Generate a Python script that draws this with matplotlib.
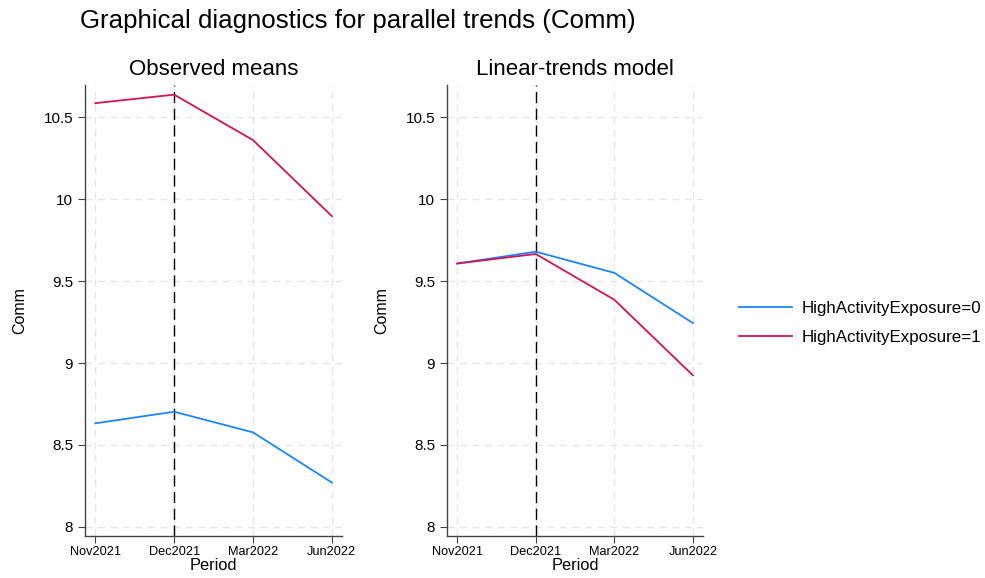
import matplotlib
matplotlib.use("Agg")
import matplotlib.pyplot as plt
from matplotlib.ticker import FuncFormatter

periods = ["Nov2021", "Dec2021", "Mar2022", "Jun2022"]
obs_hae0 = [8.632, 8.703, 8.577, 8.271]
obs_hae1 = [10.585, 10.637, 10.360, 9.896]
lin_hae0 = [9.607, 9.679, 9.550, 9.244]
lin_hae1 = [9.607, 9.665, 9.386, 8.925]
series_labels = ["HighActivityExposure=0", "HighActivityExposure=1"]
yticks = [8, 8.5, 9, 9.5, 10, 10.5]

BLUE = "#1a85ff"
RED = "#d41159"

plt.rcParams["font.family"] = ["Liberation Sans", "DejaVu Sans"]

fig = plt.figure(figsize=(9.85, 5.78), dpi=100)
ax1 = fig.add_axes([0.0863, 0.0727, 0.261, 0.780])
ax2 = fig.add_axes([0.4538, 0.0727, 0.260, 0.780])

x = list(range(len(periods)))

def style(ax, title):
    ax.set_xlim(-0.13, 3.13)
    ax.set_ylim(7.945, 10.695)
    ax.set_yticks(yticks)
    ax.yaxis.set_major_formatter(FuncFormatter(lambda v, p: f"{v:g}"))
    ax.set_xticks(x)
    ax.set_xticklabels(periods, fontsize=9.2)
    ax.tick_params(axis="y", labelsize=11, length=5, width=0.8, color="#444444")
    ax.tick_params(axis="x", length=5, width=0.8, color="#444444", pad=2)
    for s in ["top", "right"]:
        ax.spines[s].set_visible(False)
    for s in ["left", "bottom"]:
        ax.spines[s].set_color("#444444")
        ax.spines[s].set_linewidth(1.0)
    ax.grid(True, color="#e6e6e6", linestyle=(0, (5, 4)), linewidth=1.0)
    ax.set_axisbelow(True)
    ax.set_xlabel("Period", fontsize=11.8, labelpad=0)
    ax.set_ylabel("Comm", fontsize=11.5, labelpad=12)
    ax.set_title(title, fontsize=16, pad=7)
    ax.axvline(1, color="black", linestyle=(0, (8, 4)), linewidth=1.0, zorder=1)

style(ax1, "Observed means")
ax1.plot(x, obs_hae0, color=BLUE, lw=1.3, zorder=3)
ax1.plot(x, obs_hae1, color=RED, lw=1.3, zorder=3)

style(ax2, "Linear-trends model")
l0, = ax2.plot(x, lin_hae0, color=BLUE, lw=1.3, zorder=3)
l1, = ax2.plot(x, lin_hae1, color=RED, lw=1.3, zorder=3)

fig.legend([l0, l1], series_labels, loc="center left", bbox_to_anchor=(0.735, 0.441),
           frameon=False, fontsize=12.2, handlelength=3.1, labelspacing=0.85,
           handletextpad=0.6)

fig.text(0.081, 0.985, "Graphical diagnostics for parallel trends (Comm)",
         fontsize=18.6, ha="left", va="top")

fig.savefig("out.png", dpi=100)
